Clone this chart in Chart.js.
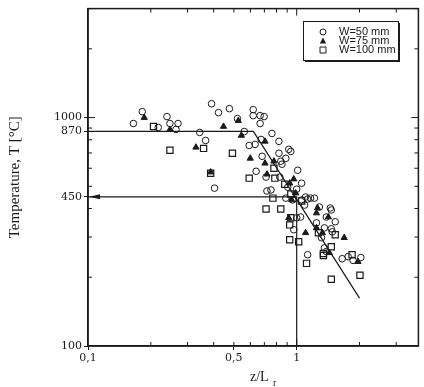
<!DOCTYPE html>
<html lang="en">
<head>
<meta charset="UTF-8">
<title>Temperature vs z/Lr</title>
<script src="https://cdn.jsdelivr.net/npm/chart.js"></script>
<style>
  body { margin: 0; background: #fff; }
</style>
</head>
<body>
<canvas id="myChart" width="424" height="387"></canvas>
<script>
// measured points [z/Lr, T]
const w50 = [
  [0.165, 942], [0.182, 1062], [0.217, 905], [0.239, 1010], [0.247, 942], [0.270, 942],
  [0.264, 887], [0.343, 861], [0.366, 794], [0.391, 1150], [0.422, 1051], [0.476, 1094],
  [0.520, 990], [0.404, 491], [0.561, 869], [0.619, 1083], [0.619, 1020], [0.668, 1020],
  [0.698, 1010], [0.668, 942], [0.761, 852], [0.822, 787], [0.592, 755], [0.632, 763],
  [0.675, 802], [0.683, 677], [0.822, 698], [0.916, 726], [0.937, 711], [0.839, 644],
  [0.887, 663], [1.011, 588], [0.639, 582], [0.713, 549], [0.830, 549], [1.056, 516],
  [0.753, 482], [0.906, 496], [1.0, 486], [1.103, 449], [1.165, 444], [1.217, 444],
  [1.449, 402], [0.887, 444], [0.957, 436], [1.056, 436], [1.128, 440], [1.091, 414],
  [1.0, 364], [1.044, 367], [0.968, 323], [1.128, 251], [1.285, 406], [1.465, 394],
  [1.387, 367], [1.530, 350], [1.244, 346], [1.358, 329], [1.465, 326], [1.481, 316],
  [1.314, 298], [1.358, 269], [1.387, 259], [1.652, 241], [1.764, 246], [1.862, 237],
  [2.03, 244], [0.85, 625], [0.72, 477]
];
const w75 = [
  [0.186, 1000], [0.247, 887], [0.329, 741], [0.387, 577], [0.446, 914], [0.543, 835],
  [0.599, 663], [0.705, 787], [0.705, 631], [0.721, 565], [0.968, 538], [0.926, 516],
  [0.947, 436], [0.916, 364], [1.103, 313], [1.244, 382], [1.418, 367], [1.244, 329],
  [1.328, 313], [1.689, 298], [1.433, 256], [1.967, 234], [0.989, 467], [0.525, 970],
  [1.258, 402], [0.778, 644]
];
const w100 = [
  [0.206, 914], [0.247, 719], [0.358, 733], [0.387, 571], [0.492, 698], [0.592, 543],
  [0.778, 600], [0.786, 543], [0.877, 511], [0.937, 463], [0.769, 444], [1.056, 431],
  [0.713, 398], [0.839, 398], [0.937, 364], [0.926, 339], [0.926, 292], [1.022, 286],
  [1.115, 230], [1.271, 313], [1.530, 307], [1.465, 272], [1.343, 254], [1.343, 249],
  [1.842, 251], [1.465, 196], [2.01, 204]
];

// fitted line and the 450 °C guide
const fitLine = [[0.1, 870], [0.62, 870], [2.0, 162]];
const guideLine = [[1, 100], [1, 450], [0.1, 450]];

// ticks
const xLabelTicks = [0.1, 0.5, 1];
const yLabelTicks = [100, 450, 870, 1000];
const xMinorTicks = [0.2, 0.3, 0.4, 0.5, 0.6, 0.7, 0.8, 0.9, 2, 3];
const yMinorTicks = [200, 300, 400, 500, 600, 700, 800, 900, 2000, 3000];

const toXY = arr => arr.map(([x, y]) => ({ x, y }));

const ink = '#1a1a1a';
const tickFont = { family: 'DejaVu Serif', size: 11 };

const framePlugin = {
  id: 'frame',
  afterDraw(chart) {
    const { ctx, chartArea: a, scales: { x, y } } = chart;
    ctx.save();
    ctx.strokeStyle = ink;
    ctx.lineWidth = 1.5;
    ctx.strokeRect(a.left, a.top, a.right - a.left, a.bottom - a.top);

    // inner tick marks
    ctx.lineWidth = 1;
    ctx.beginPath();
    xMinorTicks.concat([1]).forEach(v => {
      const px = x.getPixelForValue(v);
      const len = v === 1 ? 7 : 4;
      ctx.moveTo(px, a.bottom); ctx.lineTo(px, a.bottom - len);
      ctx.moveTo(px, a.top); ctx.lineTo(px, a.top + len);
    });
    yMinorTicks.concat([1000]).forEach(v => {
      const py = y.getPixelForValue(v);
      const len = v === 1000 ? 7 : 4;
      ctx.moveTo(a.left, py); ctx.lineTo(a.left + len, py);
      ctx.moveTo(a.right, py); ctx.lineTo(a.right - len, py);
    });
    ctx.stroke();

    // arrow head on the 450 guide
    const ax = x.getPixelForValue(0.1) + 1;
    const ay = y.getPixelForValue(450);
    ctx.fillStyle = ink;
    ctx.beginPath();
    ctx.moveTo(ax, ay);
    ctx.lineTo(ax + 11, ay - 2.5);
    ctx.lineTo(ax + 11, ay + 2.5);
    ctx.closePath();
    ctx.fill();

    // x axis title with subscript
    ctx.fillStyle = ink;
    ctx.textBaseline = 'alphabetic';
    ctx.textAlign = 'left';
    ctx.font = '14px "Liberation Serif"';
    ctx.fillText('z/L', 250, 381);
    ctx.font = '10px "Liberation Serif"';
    ctx.fillText('r', 273, 386);

    // legend box
    const lx = 303, ly = 21, lw = 95, lh = 39;
    ctx.fillStyle = ink;
    ctx.fillRect(lx + 2, ly + 2, lw, lh);
    ctx.fillStyle = '#fff';
    ctx.fillRect(lx, ly, lw, lh);
    ctx.lineWidth = 1;
    ctx.strokeStyle = ink;
    ctx.strokeRect(lx + 0.5, ly + 0.5, lw, lh);

    const rows = [32, 41, 50];
    ctx.font = '11px "Liberation Sans"';
    ctx.textBaseline = 'middle';
    chart.data.datasets.slice(0, 3).forEach((ds, i) => {
      const cy = rows[i], cx = 323;
      ctx.lineWidth = 1;
      ctx.strokeStyle = ink;
      ctx.fillStyle = ink;
      ctx.beginPath();
      if (ds.pointStyle === 'circle') {
        ctx.arc(cx, cy, 3, 0, Math.PI * 2);
        ctx.stroke();
      } else if (ds.pointStyle === 'triangle') {
        ctx.moveTo(cx, cy - 3.5);
        ctx.lineTo(cx + 3.2, cy + 2.5);
        ctx.lineTo(cx - 3.2, cy + 2.5);
        ctx.closePath();
        ctx.fill();
      } else {
        ctx.rect(cx - 3, cy - 3, 6, 6);
        ctx.stroke();
      }
      ctx.fillStyle = ink;
      ctx.fillText(ds.label, 339, cy);
    });
    ctx.restore();
  }
};

const ctx = document.getElementById('myChart').getContext('2d');

new Chart(ctx, {
  type: 'scatter',
  data: {
    datasets: [
      {
        label: 'W=50 mm', data: toXY(w50), pointStyle: 'circle', pointRadius: 3.3,
        borderColor: ink, backgroundColor: 'rgba(0,0,0,0)', borderWidth: 1
      },
      {
        label: 'W=75 mm', data: toXY(w75), pointStyle: 'triangle', pointRadius: 3.6,
        borderColor: ink, backgroundColor: ink, borderWidth: 1
      },
      {
        label: 'W=100 mm', data: toXY(w100), pointStyle: 'rect', pointRadius: 4.4,
        borderColor: ink, backgroundColor: 'rgba(0,0,0,0)', borderWidth: 1.2
      },
      {
        label: 'fit', data: toXY(fitLine), showLine: true, pointRadius: 0,
        borderColor: ink, borderWidth: 1.2
      },
      {
        label: 'guide', data: toXY(guideLine), showLine: true, pointRadius: 0,
        borderColor: ink, borderWidth: 1.2
      }
    ]
  },
  options: {
    responsive: false,
    animation: false,
    layout: { padding: { top: 6, right: 2, left: 0, bottom: 0 } },
    plugins: { legend: { display: false }, tooltip: { enabled: false } },
    scales: {
      x: {
        type: 'logarithmic',
        min: 0.1,
        max: 3.83,
        afterBuildTicks: s => { s.ticks = xLabelTicks.map(v => ({ value: v })); },
        afterFit: s => { s.height = 41; },
        ticks: {
          autoSkip: false, maxRotation: 0, minRotation: 0, padding: 2,
          font: tickFont, color: ink,
          callback: v => String(v).replace('.', ',')
        },
        grid: { drawOnChartArea: false, drawTicks: true, tickLength: 4, color: ink },
        border: { color: ink, width: 1.5 }
      },
      y: {
        type: 'logarithmic',
        min: 100,
        max: 3000,
        afterBuildTicks: s => { s.ticks = yLabelTicks.map(v => ({ value: v })); },
        afterFit: s => { s.width = 88; },
        ticks: {
          autoSkip: false, padding: 2, font: tickFont, color: ink,
          callback: v => String(v)
        },
        grid: { drawOnChartArea: false, drawTicks: true, tickLength: 4, color: ink },
        border: { color: ink, width: 1.5 },
        title: {
          display: true,
          text: 'Temperature, T [°C]',
          font: { family: 'Liberation Serif', size: 15 },
          color: ink,
          padding: { top: 6, bottom: 0 }
        }
      }
    }
  },
  plugins: [framePlugin]
});
</script>
</body>
</html>
